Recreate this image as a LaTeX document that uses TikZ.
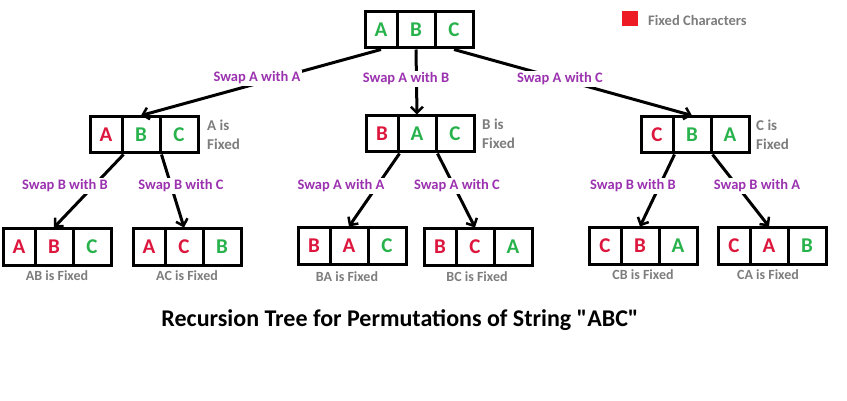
\documentclass[tikz,border=0pt]{standalone}
\usepackage{fontspec}
\setmainfont{Carlito}
\newfontfamily\titlefont{Carlito}[Ligatures=TeXOff]
\usetikzlibrary{arrows.meta}
\definecolor{fixred}{RGB}{220,22,60}
\definecolor{freegreen}{RGB}{40,178,76}
\definecolor{swappurple}{RGB}{155,50,175}
\definecolor{notegray}{RGB}{125,125,125}
\definecolor{keyred}{RGB}{237,28,36}
\tikzset{
  cell/.style={draw=black, line width=3pt, inner sep=0pt, minimum height=36pt,
    font=\fontsize{21}{21}\selectfont\bfseries},
  conn/.style={line width=3pt, -{Straight Barb[length=6pt,width=12pt,line width=2.5pt]}},
  swaplbl/.style={fill=white, inner sep=2pt, text=swappurple,
    font=\fontsize{14.5}{16}\selectfont\bfseries},
  fixnote/.style={text=notegray, align=left, anchor=north west, inner sep=0pt,
    font=\fontsize{15}{19}\selectfont\bfseries},
  subnote/.style={text=notegray, inner sep=0pt,
    font=\fontsize{14}{16}\selectfont\bfseries},
}
% #1 name, #2 left x, #3 top y, then letter/colour pairs
\newcommand\triboxx[9]{%
  \node[cell, minimum width=32pt] (#1-1) at (#2+16,#3+18) {\textcolor{#5}{#4}};
  \node[cell, minimum width=38pt] (#1-2) at (#2+51,#3+18) {\textcolor{#7}{#6}};
  \node[cell, minimum width=38pt] (#1-3) at (#2+89,#3+18) {\textcolor{#9}{#8}};
}
\begin{document}
\begin{tikzpicture}[x=1pt, y=-1pt]
\path[fill=white, use as bounding box] (0,0) rectangle (847,401);

% boxes
\triboxx{R}{365}{12}{A}{freegreen}{B}{freegreen}{C}{freegreen}
\triboxx{L}{90}{117}{A}{fixred}{B}{freegreen}{C}{freegreen}
\triboxx{M}{366}{116}{B}{fixred}{A}{freegreen}{C}{freegreen}
\triboxx{N}{641}{117}{C}{fixred}{B}{freegreen}{A}{freegreen}
\triboxx{AB}{3}{229}{A}{fixred}{B}{fixred}{C}{freegreen}
\triboxx{AC}{133}{229}{A}{fixred}{C}{fixred}{B}{freegreen}
\triboxx{BA}{298}{228}{B}{fixred}{A}{fixred}{C}{freegreen}
\triboxx{BC}{424}{229}{B}{fixred}{C}{fixred}{A}{freegreen}
\triboxx{CB}{589}{228}{C}{fixred}{B}{fixred}{A}{freegreen}
\triboxx{CA}{718}{228}{C}{fixred}{A}{fixred}{B}{freegreen}

% connectors
\draw[conn] (R-1.south) -- (L-2.north);
\draw[conn] (R-2.south) -- (M-2.north);
\draw[conn] (R-3.south) -- (N-2.north);
\draw[conn] (L-1.south east) -- (AB-2.north);
\draw[conn] (L-2.south east) -- (AC-2.north);
\draw[conn] (M-1.south east) -- (BA-2.north);
\draw[conn] (M-2.south east) -- (BC-2.north);
\draw[conn] (N-1.south east) -- (CB-2.north);
\draw[conn] (N-2.south east) -- (CA-2.north);

% swap labels
\node[swaplbl] (s1) at (257,78) {Swap A with A};
\node[swaplbl] (s2) at (406,79) {Swap A with B};
\node[swaplbl] (s3) at (560,79) {Swap A with C};
\node[swaplbl] (s4) at (65,186) {Swap B with B};
\node[swaplbl] (s5) at (181,186) {Swap B with C};
\node[swaplbl] (s6) at (341,186) {Swap A with A};
\node[swaplbl] (s7) at (457,186) {Swap A with C};
\node[swaplbl] (s8) at (633,186) {Swap B with B};
\node[swaplbl] (s9) at (757,186) {Swap B with A};

% fixed notes
\node[fixnote] (fL) at (207,120) {A is\\Fixed};
\node[fixnote] (fM) at (482,119) {B is\\Fixed};
\node[fixnote] (fN) at (756,120) {C is\\Fixed};

\node[subnote] (nAB) at (57,276) {AB is Fixed};
\node[subnote] (nAC) at (187,276) {AC is Fixed};
\node[subnote] (nBA) at (347,277) {BA is Fixed};
\node[subnote] (nBC) at (477,277) {BC is Fixed};
\node[subnote] (nCB) at (643,275) {CB is Fixed};
\node[subnote] (nCA) at (768,275) {CA is Fixed};

% legend
\node[fill=keyred, minimum width=16pt, minimum height=15pt, inner sep=0pt] (key) at (630,19) {};
\node[subnote, anchor=west, font=\fontsize{14.5}{16}\selectfont\bfseries] (keytext) at (648,20) {Fixed Characters};

% title
\node[font=\titlefont\fontsize{24}{28}\selectfont\bfseries] (title) at (400,320)
  {Recursion Tree for Permutations of String "ABC"};
\end{tikzpicture}
\end{document}
